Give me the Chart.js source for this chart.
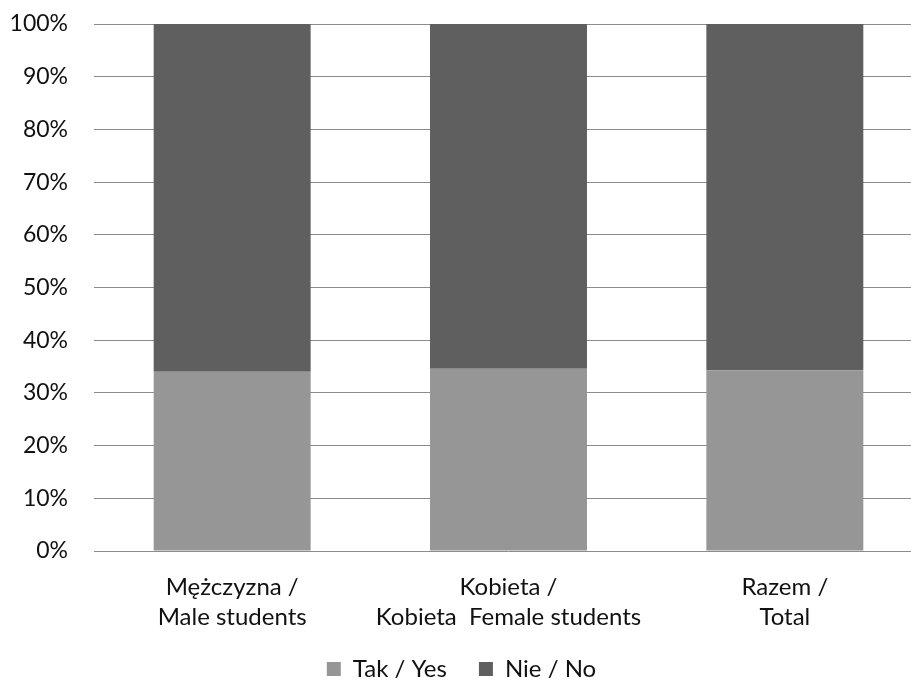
<!DOCTYPE html>
<html>
<head>
<meta charset="utf-8">
<script src="https://cdn.jsdelivr.net/npm/chart.js@4/dist/chart.umd.min.js"></script>
<style>
  html, body { margin: 0; padding: 0; overflow: hidden; background: #fff; }
  #wrap { width: 923px; height: 691px; }
</style>
</head>
<body onload="handleOnLoad()">
<div id="wrap"><canvas id="myChart" width="923" height="691"></canvas></div>
<script>
const categories = [
  ['Mężczyzna /', 'Male students'],
  ['Kobieta /', 'Kobieta  Female students'],
  ['Razem /', 'Total']
]
const takValues = [34.0, 34.6, 34.3]
const nieValues = [66.0, 65.4, 65.7]
const seriesNames = ['Tak / Yes', 'Nie / No']

function handleOnLoad(){
    createReport()
}

function createReport(){
    const ctx = document.getElementById('myChart').getContext('2d');
    new Chart(ctx, {
      type: 'bar',
      data: {
        labels: categories,
        datasets: [{
          label: seriesNames[0],
          data: takValues,
          backgroundColor: '#969696'
        }, {
          label: seriesNames[1],
          data: nieValues,
          backgroundColor: '#5f5f5f'
        }]
      },
      options: {
        responsive: false,
        animation: false,
        layout: { padding: { top: 24, left: 0, right: 0, bottom: 0 } },
        datasets: { bar: { categoryPercentage: 1, barPercentage: 0.568 } },
        plugins: {
          tooltip: { enabled: false },
          legend: {
            position: 'bottom',
            labels: { font: { family: 'Lato', size: 24 }, color: '#111', boxWidth: 14, boxHeight: 14, padding: 32 }
          }
        },
        scales: {
          x: {
            stacked: true,
            grid: { display: false, drawTicks: false },
            border: { display: false },
            ticks: { font: { family: 'Lato', size: 24, lineHeight: 1.25 }, color: '#111', padding: 21, maxRotation: 0 },
            afterFit: s => { s.height = 74 }
          },
          y: {
            stacked: true,
            min: 0,
            max: 100,
            grid: { color: '#8c8c8c', lineWidth: 1, drawTicks: false },
            border: { display: false },
            ticks: { stepSize: 10, font: { family: 'Lato', size: 23 }, color: '#111', padding: 26, callback: v => v + '%' },
            // keep the plot edges where the original has them
            afterFit: s => { s.width = 94; s.paddingTop = 0; s.paddingBottom = 0 }
          }
        }
      }
    });
}
</script>
</body>
</html>
